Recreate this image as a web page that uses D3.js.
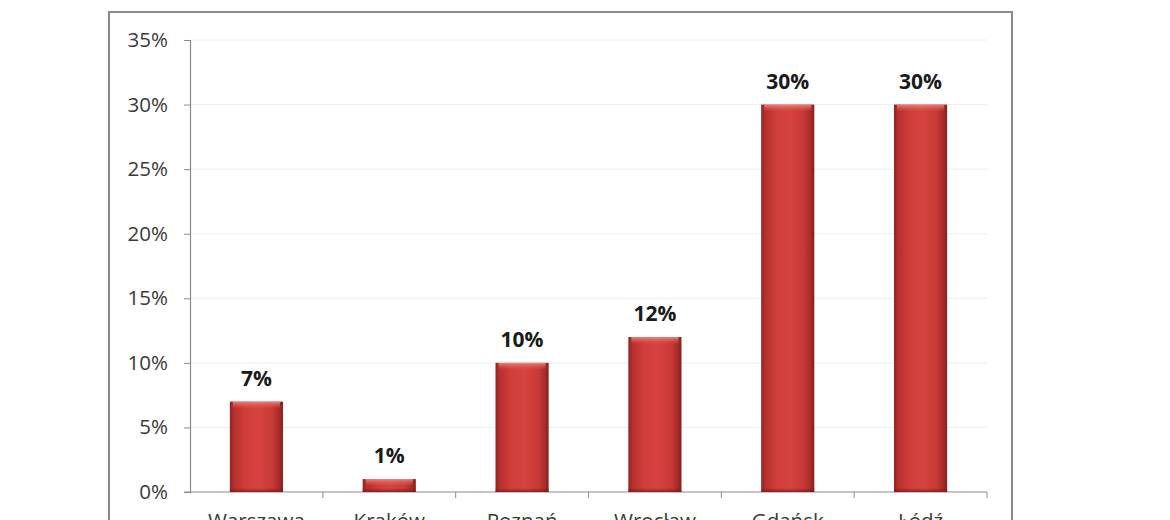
<!DOCTYPE html>
<html>
<head>
<meta charset="utf-8">
<script src="https://cdn.jsdelivr.net/npm/d3@7"></script>
<style>
html,body{margin:0;padding:0;background:#fff;overflow:hidden;}
svg{display:block;}
</style>
</head>
<body>
<svg id="chart" width="1170" height="520"></svg>
<script>
const categories = ["Warszawa", "Kraków", "Poznań", "Wrocław", "Gdańsk", "Łódź"];
const values = [7, 1, 10, 12, 30, 30];
const yTicks = [0, 5, 10, 15, 20, 25, 30, 35];

const svg = d3.select("#chart");
const font = "'Open Sans', 'Liberation Sans', sans-serif";

// outer frame
svg.append("rect").attr("x", 109).attr("y", 12).attr("width", 903).attr("height", 540)
  .attr("fill", "#fff").attr("stroke", "#8a8a8a").attr("stroke-width", 2);

const x = d3.scaleBand().domain(categories).range([190, 987]).paddingInner(0.6).paddingOuter(0.3);
const y = d3.scaleLinear().domain([0, 35]).range([492, 40]);

const defs = svg.append("defs");
const g1 = defs.append("linearGradient").attr("id", "barGrad").attr("x1", "0").attr("x2", "1").attr("y1", "0").attr("y2", "0");
[[0, "#8e2422"], [0.08, "#b8302e"], [0.3, "#d03e3b"], [0.55, "#d6433f"], [0.8, "#c73a37"], [0.92, "#aa2d2b"], [1, "#84201e"]]
  .forEach(([o, c]) => g1.append("stop").attr("offset", o).attr("stop-color", c));
const g2 = defs.append("linearGradient").attr("id", "topGrad").attr("x1", "0").attr("x2", "0").attr("y1", "0").attr("y2", "1");
g2.append("stop").attr("offset", 0).attr("stop-color", "#f08a82").attr("stop-opacity", 0.9);
g2.append("stop").attr("offset", 1).attr("stop-color", "#e05a54").attr("stop-opacity", 0);
const g3 = defs.append("linearGradient").attr("id", "botGrad").attr("x1", "0").attr("x2", "0").attr("y1", "0").attr("y2", "1");
g3.append("stop").attr("offset", 0).attr("stop-color", "#6e1514").attr("stop-opacity", 0);
g3.append("stop").attr("offset", 1).attr("stop-color", "#6e1514").attr("stop-opacity", 0.7);

// gridlines
svg.append("g").selectAll("line").data(yTicks.slice(1)).join("line")
  .attr("x1", 190).attr("x2", 987)
  .attr("y1", d => y(d)).attr("y2", d => y(d))
  .attr("stroke", "#eeeeee").attr("stroke-width", 1);

// y axis
const yAxis = d3.axisLeft(y).tickValues(yTicks).tickFormat(d => d + "%").tickSize(6).tickPadding(16);
const ya = svg.append("g").attr("transform", "translate(190,0)").call(yAxis);
ya.select(".domain").attr("stroke", "#8c8c8c").attr("stroke-width", 1.2);
ya.selectAll(".tick line").attr("stroke", "#8c8c8c");
ya.selectAll("text").attr("font-family", font).attr("font-size", 20.5).attr("fill", "#3a3a3a");

// x axis
const boundaries = categories.map((c, i) => 190 + (987 - 190) / categories.length * (i + 1));
svg.append("line").attr("x1", 184).attr("x2", 987).attr("y1", 492).attr("y2", 492)
  .attr("stroke", "#8c8c8c").attr("stroke-width", 1.2);
svg.append("g").selectAll("line").data(boundaries).join("line")
  .attr("x1", d => d).attr("x2", d => d).attr("y1", 492).attr("y2", 498)
  .attr("stroke", "#8c8c8c");

// bars
const bars = svg.append("g").selectAll("g").data(values).join("g");
bars.append("rect")
  .attr("x", (d, i) => x(categories[i])).attr("width", x.bandwidth())
  .attr("y", d => y(d)).attr("height", d => y(0) - y(d))
  .attr("fill", "url(#barGrad)");
bars.append("rect")
  .attr("x", (d, i) => x(categories[i]) + 3).attr("width", x.bandwidth() - 6)
  .attr("y", d => y(d)).attr("height", d => Math.min(7, y(0) - y(d)))
  .attr("fill", "url(#topGrad)");
bars.append("rect")
  .attr("x", (d, i) => x(categories[i])).attr("width", x.bandwidth())
  .attr("y", d => y(0) - Math.min(4, y(0) - y(d))).attr("height", d => Math.min(4, y(0) - y(d)))
  .attr("fill", "url(#botGrad)");

// value labels
svg.append("g").selectAll("text").data(values).join("text")
  .attr("x", (d, i) => x(categories[i]) + x.bandwidth() / 2)
  .attr("y", d => y(d) - 16)
  .attr("text-anchor", "middle")
  .attr("font-family", font).attr("font-weight", "bold").attr("font-size", 21)
  .attr("fill", "#1a1a1a")
  .text(d => d + "%");

// category labels (cut off by the bottom edge as in the reference)
svg.append("g").selectAll("text").data(categories).join("text")
  .attr("x", c => x(c) + x.bandwidth() / 2)
  .attr("y", 528)
  .attr("text-anchor", "middle")
  .attr("font-family", font).attr("font-size", 20.5).attr("fill", "#3a3a3a")
  .text(c => c);
</script>
</body>
</html>
